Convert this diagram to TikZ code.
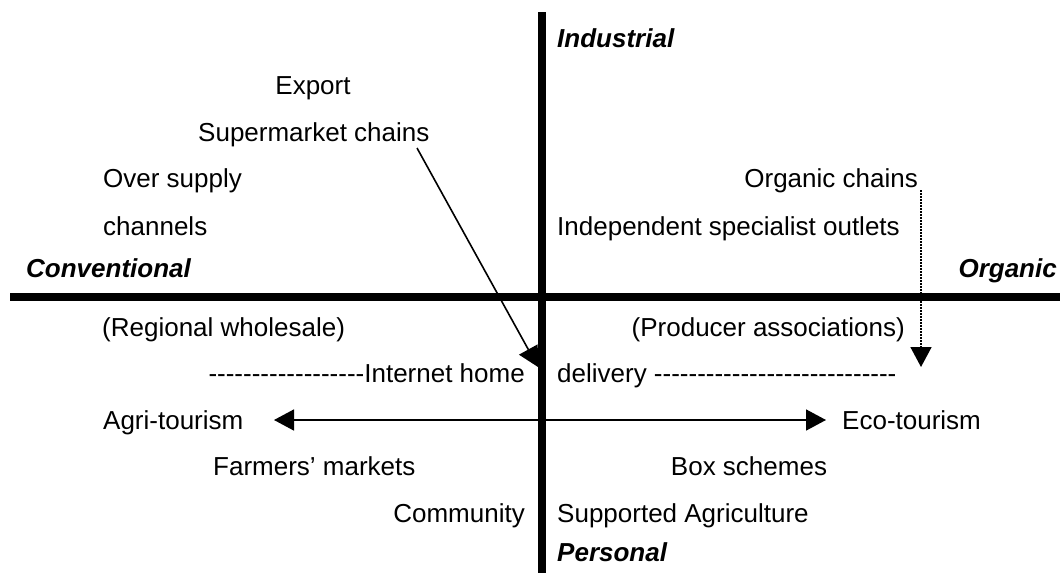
\documentclass[tikz,border=0pt]{standalone}
\usepackage{fontspec}
\newfontfamily\diagfont{Liberation Sans}
\usetikzlibrary{arrows.meta}
\tikzset{
  lbl/.style={inner sep=0pt, font=\diagfont\fontsize{26}{30}\selectfont},
  axislbl/.style={inner sep=0pt, font=\diagfont\fontsize{26}{30}\selectfont\bfseries\itshape},
  axisbar/.style={line width=8pt},
  pointer/.style={line width=1.6pt, -{Triangle[length=20pt,width=21pt]}},
}
\begin{document}
\begin{tikzpicture}[x=1pt,y=-1pt]
  \useasboundingbox (0,0) rectangle (1060,573);
  % axes
  \draw[axisbar] (542,12) -- (542,573);
  \draw[axisbar] (10,297) -- (1060,297);
  % axis labels
  \node[axislbl, anchor=base west] (ind) at (557,47) {Industrial};
  \node[axislbl, anchor=base west] (conv) at (26,277) {Conventional};
  \node[axislbl, anchor=base east] (org) at (1057,277) {Organic};
  \node[axislbl, anchor=base west] (pers) at (557,561) {Personal};
  % upper left
  \node[lbl, anchor=base] (exp) at (313,94) {Export};
  \node[lbl, anchor=base west] (sup) at (198,141) {Supermarket chains};
  \node[lbl, anchor=base west] (over) at (103,187) {Over supply};
  \node[lbl, anchor=base west] (chan) at (103,235) {channels};
  % upper right
  \node[lbl, anchor=base east] (orgch) at (918,187) {Organic chains};
  \node[lbl, anchor=base west] (indep) at (557,235) {Independent specialist outlets};
  % lower half
  \node[lbl, anchor=base west] (reg) at (102,336) {(Regional wholesale)};
  \node[lbl, anchor=base east] (prod) at (905,336) {(Producer associations)};
  \node[lbl, anchor=base east] (inet) at (525,382) {------------------Internet home};
  \node[lbl, anchor=base west] (deliv) at (557,382) {delivery ----------------------------};
  \node[lbl, anchor=base west] (agri) at (103,429) {Agri-tourism};
  \node[lbl, anchor=base west] (eco) at (842,429) {Eco-tourism};
  \node[lbl, anchor=base west] (farm) at (213,475) {Farmers’ markets};
  \node[lbl, anchor=base] (box) at (749,475) {Box schemes};
  \node[lbl, anchor=base east] (comm) at (525,522) {Community};
  \node[lbl, anchor=base west] (csa) at (557,522) {Supported Agriculture};
  % connectors
  \coordinate (supstart) at (417,148);
  \coordinate (suptip) at (538,367);
  \coordinate (orgstart) at (921,190);
  \coordinate (orgtip) at (921,367);
  \coordinate (agritip) at (274,420);
  \coordinate (ecotip) at (826,420);
  \draw[pointer] (supstart) -- (suptip);
  \draw[pointer, dash pattern=on 1.5pt off 1.5pt] (orgstart) -- (orgtip);
  \draw[pointer, {Triangle[length=20pt,width=21pt]}-{Triangle[length=20pt,width=21pt]}] (agritip) -- (ecotip);
\end{tikzpicture}
\end{document}
